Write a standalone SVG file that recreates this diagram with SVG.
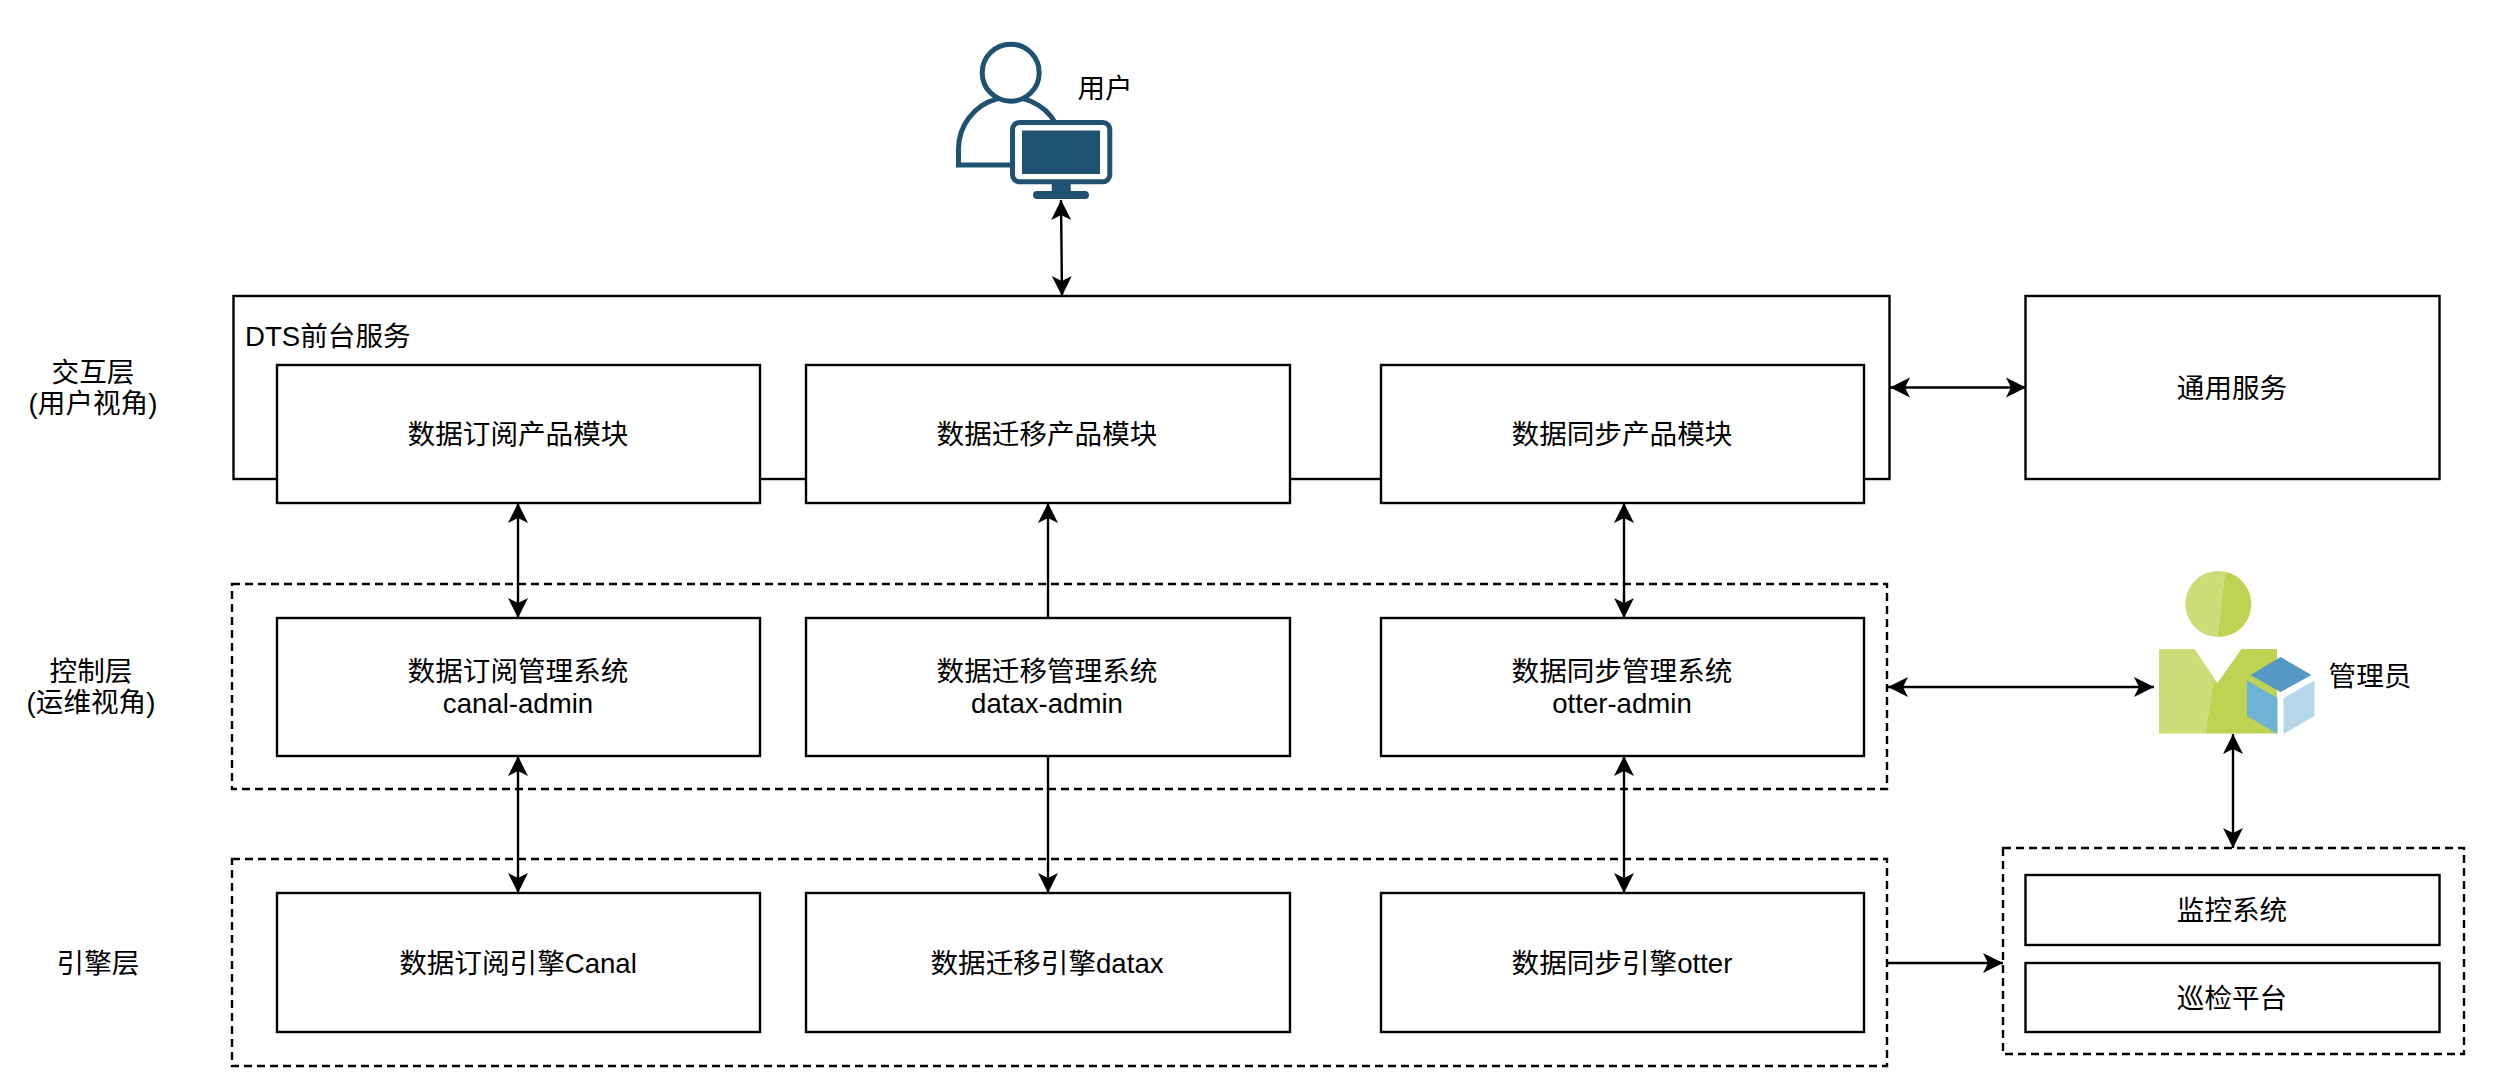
<svg xmlns="http://www.w3.org/2000/svg" width="2508" height="1080" viewBox="0 0 2508 1080">
<style>
text{font-family:"Liberation Sans","Noto Sans CJK SC",sans-serif;font-size:27.6px;fill:#000;text-anchor:middle;dominant-baseline:central}
.b{fill:#fff;stroke:#000;stroke-width:2.4}
.d{fill:none;stroke:#000;stroke-width:2.4;stroke-dasharray:8 5}
.c{fill:none;stroke:#000;stroke-width:2.4;marker-end:url(#a)}
.cc{marker-start:url(#a)}
.u{fill:none;stroke:#1f5270;stroke-width:5}
</style>
<defs>
<marker id="a" markerUnits="userSpaceOnUse" markerWidth="22" markerHeight="22" viewBox="0 0 20 22" refX="20" refY="11" orient="auto-start-reverse"><path d="M0,1 L20,11 L0,21 L5,11 Z" fill="#000"/></marker>
</defs>
<rect width="2508" height="1080" fill="#fff"/>
<g id="layer-control"><rect class="d" x="232" y="584" width="1655" height="205"/></g>
<g id="layer-engine"><rect class="d" x="232" y="859" width="1655" height="207"/></g>
<g id="ops-group"><rect class="d" x="2003" y="848" width="461" height="206"/></g>
<g id="dts"><rect class="b" x="233.500" y="296" width="1656" height="183"/><text x="245" y="336" style="text-anchor:start">DTS前台服务</text></g>
<g id="common"><rect class="b" x="2025.500" y="296" width="414" height="183"/><text x="2232" y="388">通用服务</text></g>
<g id="mod-sub"><rect class="b" x="277" y="365" width="483" height="138"/><text x="518" y="434.500">数据订阅产品模块</text></g>
<g id="mod-mig"><rect class="b" x="806" y="365" width="484" height="138"/><text x="1047" y="434.500">数据迁移产品模块</text></g>
<g id="mod-syn"><rect class="b" x="1381" y="365" width="483" height="138"/><text x="1622" y="434.500">数据同步产品模块</text></g>
<g id="adm-sub"><rect class="b" x="277" y="618" width="483" height="138"/><text x="518" y="671">数据订阅管理系统</text><text x="518" y="703">canal-admin</text></g>
<g id="adm-mig"><rect class="b" x="806" y="618" width="484" height="138"/><text x="1047" y="671">数据迁移管理系统</text><text x="1047" y="703">datax-admin</text></g>
<g id="adm-syn"><rect class="b" x="1381" y="618" width="483" height="138"/><text x="1622" y="671">数据同步管理系统</text><text x="1622" y="703">otter-admin</text></g>
<g id="eng-sub"><rect class="b" x="277" y="893" width="483" height="139"/><text x="518" y="963.500">数据订阅引擎Canal</text></g>
<g id="eng-mig"><rect class="b" x="806" y="893" width="484" height="139"/><text x="1047" y="963.500">数据迁移引擎datax</text></g>
<g id="eng-syn"><rect class="b" x="1381" y="893" width="483" height="139"/><text x="1622" y="963.500">数据同步引擎otter</text></g>
<g id="monitor"><rect class="b" x="2025.500" y="875" width="414" height="70"/><text x="2232" y="910">监控系统</text></g>
<g id="patrol"><rect class="b" x="2025.500" y="963" width="414" height="69"/><text x="2232" y="998">巡检平台</text></g>
<g id="label-interact"><text x="93" y="372.500">交互层</text><text x="93" y="403.500">(用户视角)</text></g>
<g id="label-control"><text x="91" y="671.500">控制层</text><text x="91" y="702.500">(运维视角)</text></g>
<g id="label-engine"><text x="98" y="963">引擎层</text></g>
<g id="user">
<path class="u" d="M1012,165 H958.500 V150 A52,52 0 0 1 1056,124"/>
<circle class="u" cx="1010.700" cy="72.700" r="28.500" style="fill:#fff"/>
<rect x="1012.500" y="122.500" width="97.300" height="59.300" rx="7" fill="#fff" stroke="#1f5270" stroke-width="5"/>
<rect x="1022" y="130.500" width="78" height="43.500" fill="#1f5270"/>
<rect x="1051.700" y="184" width="19" height="8" fill="#1f5270"/>
<rect x="1033" y="191" width="56" height="8" rx="4" fill="#1f5270"/>
<text x="1105" y="88">用户</text>
</g>
<g id="admin">
<path d="M2225,571.700 A33,33 0 1 0 2217.500,637 Z" fill="#ccdc76"/>
<path d="M2225,571.700 A33,33 0 0 1 2217.500,637 Z" fill="#bed351"/>
<path d="M2159,649 H2194.500 L2217.500,683 H2213 L2205.500,733.500 H2159 Z" fill="#ccdc76"/>
<path d="M2241.500,649 H2277 V733.500 H2205.500 L2213,683 H2217.500 Z" fill="#bed351"/>
<path d="M2280.500,657 L2311.500,675 L2280.500,692 L2250.500,675 Z" fill="#5499c3"/>
<path d="M2247,680.500 L2277.500,698 V734 L2247,716 Z" fill="#6eb2d6"/>
<path d="M2283.500,698 L2314.500,680.500 V716 L2283.500,734 Z" fill="#b6d7ea"/>
<text x="2370" y="676">管理员</text>
</g>
<g id="connectors">
<path class="c cc" d="M1061,200 L1062,296"/>
<path class="c cc" d="M518,503 V618"/>
<path class="c cc" d="M518,756 V893"/>
<path class="c" d="M1048,618 V503"/>
<path class="c" d="M1048,756 V893"/>
<path class="c cc" d="M1624,503 V618"/>
<path class="c cc" d="M1624,756 V893"/>
<path class="c cc" d="M1890,387.500 H2026"/>
<path class="c cc" d="M1888,687 H2154"/>
<path class="c cc" d="M2233,734 V848"/>
<path class="c" d="M1888,963 H2003"/>
</g>
</svg>
